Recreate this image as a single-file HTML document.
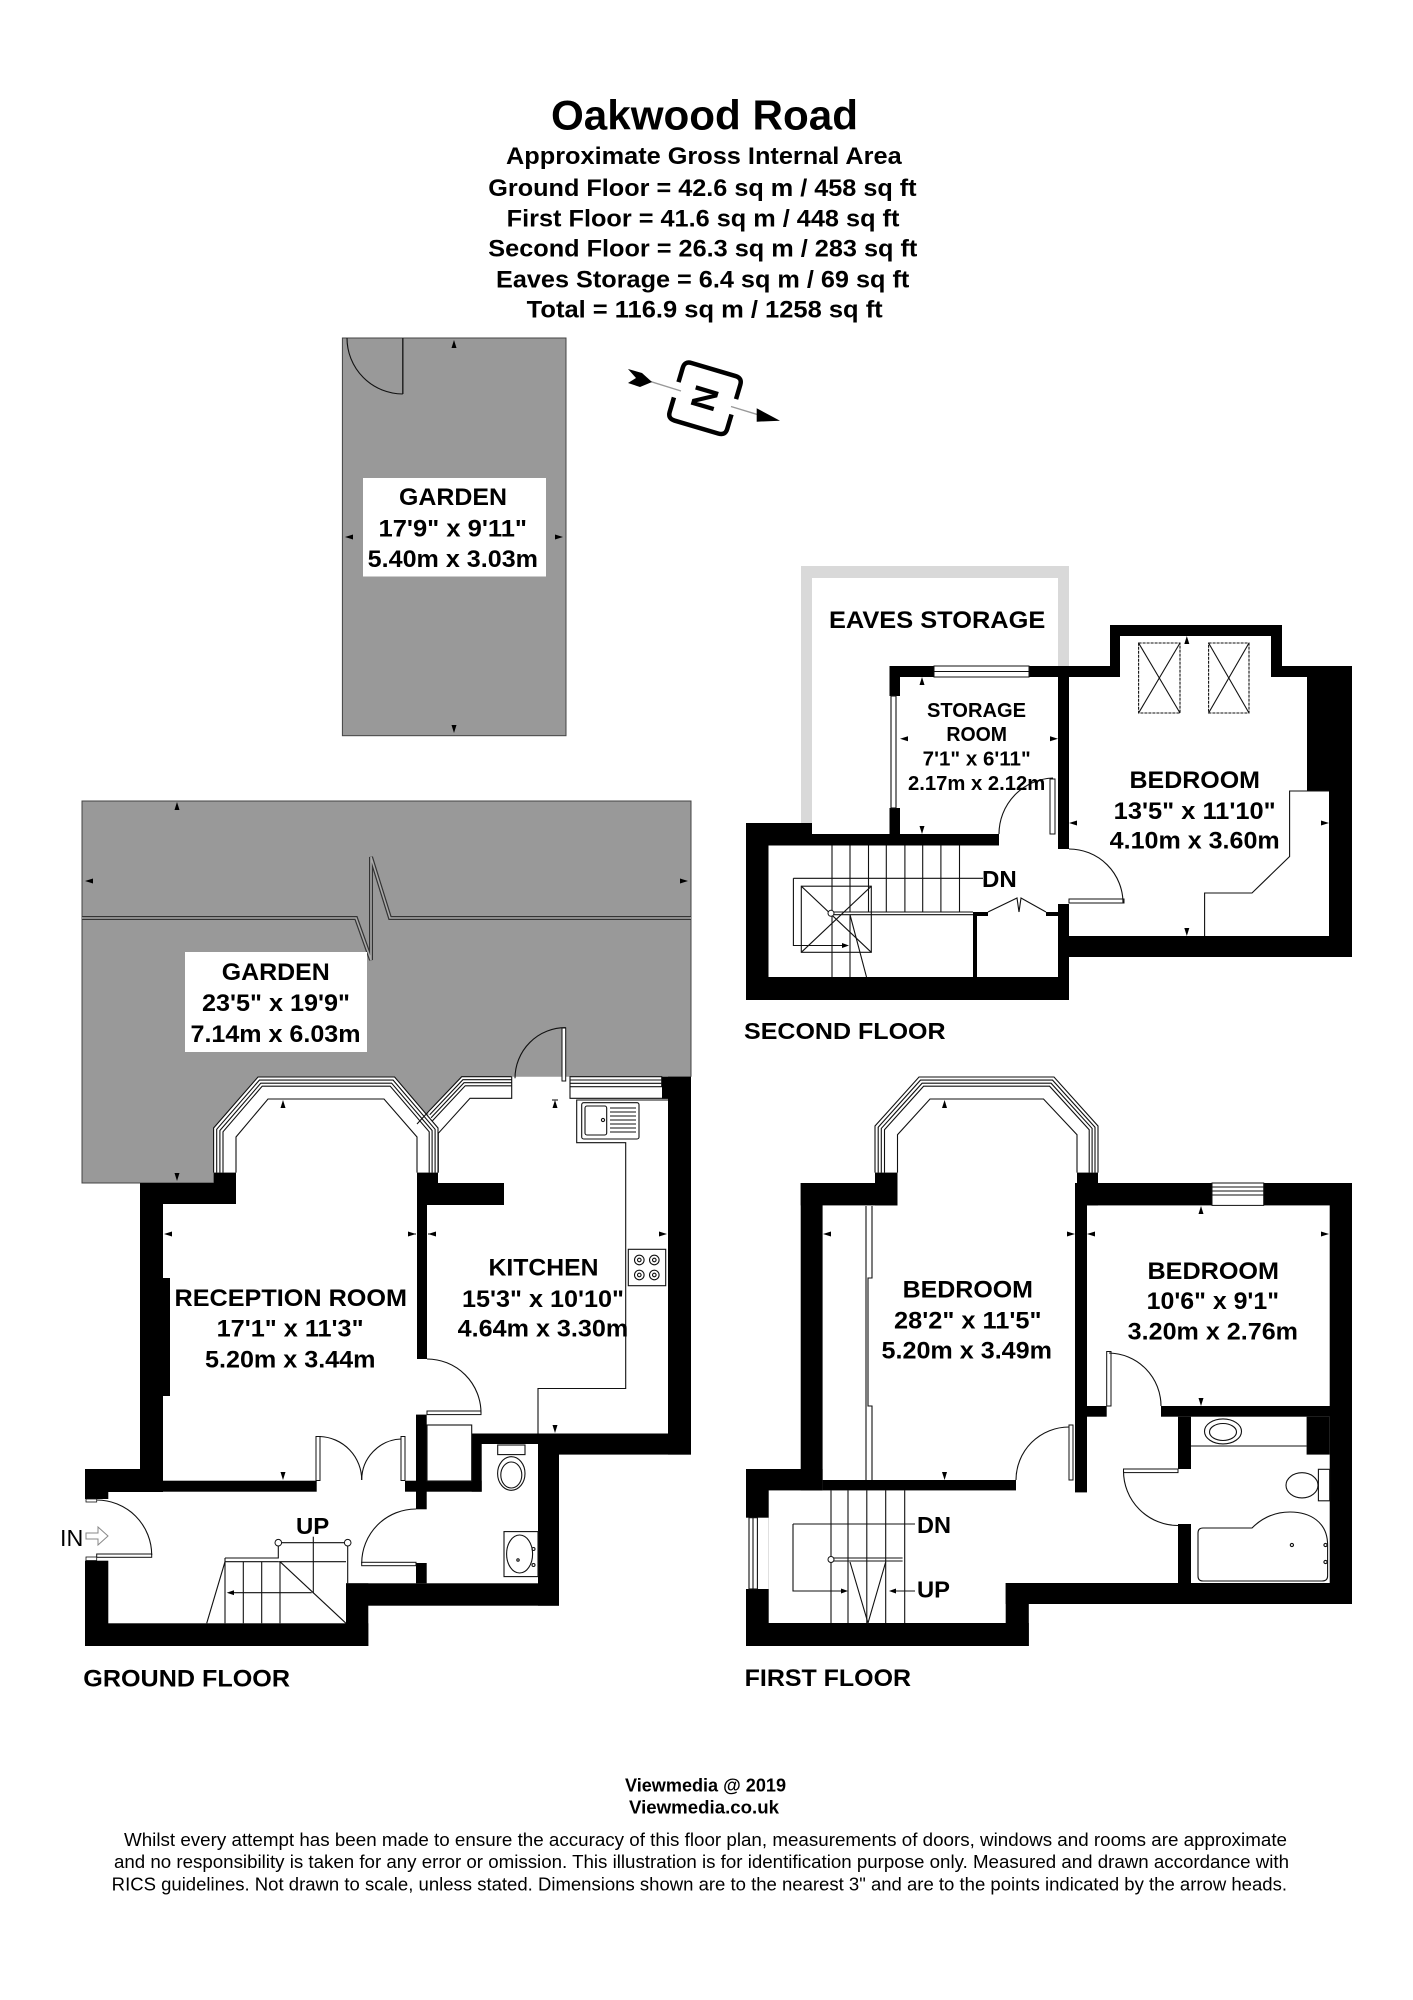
<!DOCTYPE html>
<html><head><meta charset="utf-8"><style>
html,body{margin:0;padding:0;background:#fff;}
svg{display:block;}
text{font-family:"Liberation Sans",Arial,sans-serif;font-weight:bold;fill:#000;}
.r{font-weight:normal;}
.ln{fill:none;stroke:#111;stroke-width:1.1;}
.tk{fill:#000;}
</style></head><body>
<svg width="1413" height="2000" viewBox="0 0 1413 2000" xmlns="http://www.w3.org/2000/svg">
<rect width="1413" height="2000" fill="#fff"/>

<!-- HEADER -->
<text x="551" y="129.3" font-size="42" textLength="307" lengthAdjust="spacingAndGlyphs">Oakwood Road</text>
<text x="506" y="164" font-size="24" textLength="395.7" lengthAdjust="spacingAndGlyphs">Approximate Gross Internal Area</text>
<text x="488.3" y="196" font-size="24" textLength="428.3" lengthAdjust="spacingAndGlyphs">Ground Floor = 42.6 sq m / 458 sq ft</text>
<text x="506.7" y="226.7" font-size="24" textLength="392.7" lengthAdjust="spacingAndGlyphs">First Floor = 41.6 sq m / 448 sq ft</text>
<text x="488.3" y="256.7" font-size="24" textLength="429" lengthAdjust="spacingAndGlyphs">Second Floor = 26.3 sq m / 283 sq ft</text>
<text x="496" y="287.3" font-size="24" textLength="413.3" lengthAdjust="spacingAndGlyphs">Eaves Storage = 6.4 sq m / 69 sq ft</text>
<text x="526.7" y="317.3" font-size="24" textLength="356" lengthAdjust="spacingAndGlyphs">Total = 116.9 sq m / 1258 sq ft</text>

<!-- TOP GARDEN -->
<rect x="342.4" y="338" width="223.6" height="397.7" fill="#999" stroke="#444" stroke-width="1"/>
<line x1="402.8" y1="338" x2="402.8" y2="394" stroke="#222" stroke-width="1.5"/>
<path d="M347 338 A56 56 0 0 0 402.8 394" class="ln"/>
<rect x="363" y="478" width="183" height="98.5" fill="#fff"/>
<text x="399" y="505" font-size="24" textLength="108" lengthAdjust="spacingAndGlyphs">GARDEN</text>
<text x="378.5" y="536.7" font-size="24" textLength="148.5" lengthAdjust="spacingAndGlyphs">17'9" x 9'11"</text>
<text x="367.7" y="567" font-size="24" textLength="170.3" lengthAdjust="spacingAndGlyphs">5.40m x 3.03m</text>
<polygon class="tk" points="454,340 451.5,348 456.5,348"/>
<polygon class="tk" points="454,733 451.5,725 456.5,725"/>
<polygon class="tk" points="345,537 353,534.5 353,539.5"/>
<polygon class="tk" points="563,537 555,534.5 555,539.5"/>

<!-- COMPASS -->
<line x1="636" y1="377" x2="681" y2="391" stroke="#999" stroke-width="1.4"/>
<line x1="731" y1="406.5" x2="760" y2="415.3" stroke="#999" stroke-width="1.4"/>
<polygon points="756.7,408.3 780,420.7 756.7,421.7" fill="#000"/>
<polygon points="628,369 642,373 652,382 640,387 628,383 636,378" fill="#000"/>
<g transform="translate(705,398.3) rotate(16.5)">
<path d="M-30,-8 L-30,-23 Q-30,-30 -23,-30 L23,-30 Q30,-30 30,-23 L30,-8" fill="none" stroke="#000" stroke-width="4.5"/>
<path d="M-30,8 L-30,23 Q-30,30 -23,30 L23,30 Q30,30 30,23 L30,8" fill="none" stroke="#000" stroke-width="4.5"/>
</g>
<g transform="translate(705,398.3) rotate(106.5)">
<text x="0" y="12" font-size="34" text-anchor="middle">N</text>
</g>

<!-- ================= GROUND FLOOR ================= -->
<rect x="82" y="801" width="609" height="382" fill="#999" stroke="#444" stroke-width="1"/>
<polyline points="82,918 356,918 371,960 371,857 390,918 691,918" fill="none" stroke="#333" stroke-width="4"/>
<polyline points="82,918 356,918 371,960 371,857 390,918 691,918" fill="none" stroke="#aaa" stroke-width="1.6"/>
<polygon class="tk" points="177,802 174.5,810 179.5,810"/>
<polygon class="tk" points="177,1181 174.5,1173 179.5,1173"/>
<polygon class="tk" points="85,881 93,878.5 93,883.5"/>
<polygon class="tk" points="688,881 680,878.5 680,883.5"/>
<rect x="185" y="952" width="182" height="100" fill="#fff"/>
<text x="221.8" y="980" font-size="24" textLength="108" lengthAdjust="spacingAndGlyphs">GARDEN</text>
<text x="202" y="1011" font-size="24" textLength="148" lengthAdjust="spacingAndGlyphs">23'5" x 19'9"</text>
<text x="190.5" y="1042" font-size="24" textLength="170" lengthAdjust="spacingAndGlyphs">7.14m x 6.03m</text>

<!-- white building regions over garden -->
<polygon points="213.6,1187 213.6,1128 258,1077 394.6,1077 438,1128 438,1187" fill="#fff"/>
<polygon points="428.3,1111.7 461.7,1076.7 692,1076.7 692,1187 428.3,1187" fill="#fff"/>
<!-- reception bay lines -->
<polyline class="ln" points="213.6,1172.6 213.6,1128 258,1077 394.6,1077 438,1128 438,1172.6"/>
<polyline class="ln" points="216.7,1172.6 216.7,1129.3 259.4,1080.1 393.1,1080.1 435.1,1129.3 435.1,1172.6"/>
<polyline class="ln" points="219.9,1172.6 219.9,1130.5 260.8,1083.2 391.6,1083.2 432.1,1130.5 432.1,1172.6"/>
<polyline class="ln" points="223,1172.6 223,1131.8 262.2,1086.2 390.2,1086.2 429.2,1131.8 429.2,1172.6"/>
<polyline class="ln" points="236,1172.6 236,1137 268,1099 384,1099 417,1137 417,1172.6"/>
<!-- kitchen left window -->
<polyline class="ln" points="511.7,1076.7 461.7,1076.7 428.3,1111.7 417,1124"/>
<polyline class="ln" points="511.7,1079.7 462.9,1079.7 429.7,1114.7"/>
<polyline class="ln" points="511.7,1082.7 464,1082.7 431.1,1117.7"/>
<polyline class="ln" points="511.7,1085.8 465.2,1085.8 432.5,1120.7"/>
<polyline class="ln" points="511.7,1076.7 511.7,1098.3 470,1098.3 438.3,1133.3 438.3,1172.6"/>
<!-- kitchen right window -->
<rect x="570" y="1076.7" width="91.7" height="10" class="ln"/>
<line class="ln" x1="570" y1="1080" x2="661.7" y2="1080"/>
<line class="ln" x1="570" y1="1083.3" x2="661.7" y2="1083.3"/>
<polyline class="ln" points="570,1086.7 570,1098.3 668,1098.3"/>
<!-- garden door -->
<rect x="562" y="1028" width="3.7" height="53" fill="#fff" stroke="#111" stroke-width="1"/>
<path class="ln" d="M515 1078.3 A50.7 50.7 0 0 1 565.7 1027.6"/>

<!-- ground walls -->
<g fill="#000">
<rect x="140" y="1183" width="23" height="309"/>
<rect x="163" y="1278" width="7" height="118"/>
<rect x="140" y="1183" width="96" height="21"/>
<rect x="213.6" y="1172.6" width="22.4" height="31.4"/>
<rect x="417" y="1172.6" width="21" height="10.4"/>
<rect x="417" y="1183" width="87" height="22"/>
<rect x="417" y="1183" width="10" height="176"/>
<rect x="416" y="1414.6" width="10.7" height="94.7"/>
<rect x="140" y="1480.7" width="176.7" height="11"/>
<rect x="85" y="1469" width="78" height="23"/>
<rect x="85" y="1469" width="23.3" height="30"/>
<rect x="405" y="1480.7" width="76.7" height="11"/>
<rect x="471.7" y="1433.5" width="10" height="58.2"/>
<rect x="471.7" y="1433.5" width="219.3" height="10.5"/>
<rect x="538" y="1433.5" width="153" height="21.1"/>
<rect x="662" y="1076.7" width="29" height="22"/>
<rect x="668" y="1076.7" width="23" height="377.9"/>
<rect x="538" y="1433.5" width="21" height="172.2"/>
<rect x="346" y="1583.3" width="213" height="22.4"/>
<rect x="416" y="1563" width="10.7" height="20.3"/>
<rect x="85" y="1623.3" width="283.3" height="22.7"/>
<rect x="346" y="1583.3" width="22.3" height="62.7"/>
<rect x="85" y="1560.7" width="23.3" height="85.3"/>
</g>
<!-- kitchen counter, sink, hob -->
<polyline class="ln" points="668,1100 576.7,1100 576.7,1142.7 625.7,1142.7 625.7,1388.5 538,1388.5 538,1433.5"/>
<rect x="581.7" y="1102.7" width="57.3" height="36.3" rx="2" class="ln"/>
<rect x="585" y="1106" width="21.7" height="29" rx="2" class="ln"/>
<circle cx="603" cy="1120" r="1.6" class="ln"/>
<g class="ln"><line x1="610" y1="1108" x2="636" y2="1108"/><line x1="610" y1="1112" x2="636" y2="1112"/><line x1="610" y1="1116" x2="636" y2="1116"/><line x1="610" y1="1120" x2="636" y2="1120"/><line x1="610" y1="1124" x2="636" y2="1124"/><line x1="610" y1="1128" x2="636" y2="1128"/><line x1="610" y1="1132" x2="636" y2="1132"/></g>
<rect x="628.3" y="1249.3" width="37.4" height="36.4" class="ln"/>
<g class="ln"><circle cx="639.3" cy="1260" r="4.8"/><circle cx="654.3" cy="1260" r="4.8"/><circle cx="639.3" cy="1275" r="4.8"/><circle cx="654.3" cy="1275" r="4.8"/>
<circle cx="639.3" cy="1260" r="1.8"/><circle cx="654.3" cy="1260" r="1.8"/><circle cx="639.3" cy="1275" r="1.8"/><circle cx="654.3" cy="1275" r="1.8"/></g>
<!-- doors -->
<rect x="427" y="1411" width="54" height="3.6" fill="#fff" stroke="#111" stroke-width="1"/>
<path class="ln" d="M427 1359 A54 54 0 0 1 481 1413"/>
<rect x="427" y="1425" width="44.7" height="56" class="ln"/>
<rect x="316" y="1436.5" width="4" height="44" fill="#fff" stroke="#111" stroke-width="1"/>
<rect x="401" y="1436.5" width="4" height="44" fill="#fff" stroke="#111" stroke-width="1"/>
<path class="ln" d="M320 1436.5 A43.5 43.5 0 0 1 361.7 1480"/>
<path class="ln" d="M401 1439 A41 41 0 0 0 361.7 1480"/>
<rect x="96.7" y="1554" width="55" height="3.3" fill="#fff" stroke="#111" stroke-width="1"/>
<path class="ln" d="M96.7 1500 A55 55 0 0 1 151.7 1555"/>
<rect x="86" y="1499" width="10.7" height="3" fill="#fff" stroke="#111" stroke-width="0.8"/>
<rect x="86" y="1557" width="10.7" height="3.5" fill="#fff" stroke="#111" stroke-width="0.8"/>
<rect x="361.7" y="1562.3" width="54.3" height="3.4" fill="#fff" stroke="#111" stroke-width="1"/>
<path class="ln" d="M416 1509 A54.3 54.3 0 0 0 361.7 1563.3"/>
<!-- WC -->
<rect x="497.7" y="1445" width="27.3" height="9.6" class="ln"/>
<ellipse cx="511.3" cy="1473.5" rx="13.7" ry="16.8" class="ln"/>
<ellipse cx="511.3" cy="1475" rx="10.5" ry="13" class="ln"/>
<rect x="504" y="1531.6" width="34" height="45" class="ln"/>
<ellipse cx="519.6" cy="1554" rx="13" ry="19" class="ln"/>
<circle cx="533.5" cy="1549" r="1.5" class="ln"/><circle cx="533.5" cy="1565" r="1.5" class="ln"/>
<circle cx="518" cy="1560" r="1.2" class="ln"/>
<!-- ground stairs -->
<g class="ln">
<line x1="281.6" y1="1542.7" x2="344.4" y2="1542.7"/>
<line x1="278.3" y1="1561.7" x2="346" y2="1561.7"/>
<line x1="347.7" y1="1546" x2="347.7" y2="1583.3"/>
<line x1="313.3" y1="1536.7" x2="313.3" y2="1593.3"/>
<polyline points="278.3,1546 278.3,1558 225,1558"/>
<line x1="225" y1="1561.7" x2="278.3" y2="1561.7"/>
<line x1="225" y1="1558" x2="225" y2="1623.3"/>
<line x1="243.3" y1="1561.7" x2="243.3" y2="1623.3"/>
<line x1="261.7" y1="1561.7" x2="261.7" y2="1623.3"/>
<line x1="280" y1="1561.7" x2="280" y2="1623.3"/>
<line x1="225" y1="1561.7" x2="206.7" y2="1623.3"/>
<line x1="280" y1="1561.7" x2="346" y2="1623.3"/>
<line x1="311.7" y1="1592.7" x2="232" y2="1592.7"/>
</g>
<circle cx="278.3" cy="1542.7" r="3.3" fill="#fff" stroke="#111" stroke-width="1"/>
<circle cx="347.7" cy="1542.7" r="3.3" fill="#fff" stroke="#111" stroke-width="1"/>
<polygon class="tk" points="226.7,1592.7 234,1590.3 234,1595.1"/>
<!-- ground ticks -->
<polygon class="tk" points="283,1100 280.5,1108 285.5,1108"/>
<polygon class="tk" points="283,1480 280.5,1472 285.5,1472"/>
<polygon class="tk" points="164,1234 172,1231.5 172,1236.5"/>
<polygon class="tk" points="416,1234 408,1231.5 408,1236.5"/>
<polygon class="tk" points="555,1100 552.5,1108 557.5,1108"/>
<line x1="552" y1="1100" x2="558" y2="1100" stroke="#000" stroke-width="1"/>
<polygon class="tk" points="555,1433 552.5,1425 557.5,1425"/>
<polygon class="tk" points="428,1234 436,1231.5 436,1236.5"/>
<polygon class="tk" points="667,1234 659,1231.5 659,1236.5"/>
<line x1="408" y1="1234" x2="416" y2="1234" stroke="#000"/><line x1="428" y1="1234" x2="436" y2="1234" stroke="#000"/>
<!-- ground labels -->
<text x="174.5" y="1306" font-size="24" textLength="232.5" lengthAdjust="spacingAndGlyphs">RECEPTION ROOM</text>
<text x="216.6" y="1336.7" font-size="24" textLength="147" lengthAdjust="spacingAndGlyphs">17'1" x 11'3"</text>
<text x="205" y="1367.4" font-size="24" textLength="170.5" lengthAdjust="spacingAndGlyphs">5.20m x 3.44m</text>
<text x="488.5" y="1275.7" font-size="24" textLength="110" lengthAdjust="spacingAndGlyphs">KITCHEN</text>
<text x="462" y="1307" font-size="24" textLength="162" lengthAdjust="spacingAndGlyphs">15'3" x 10'10"</text>
<text x="457.7" y="1336.7" font-size="24" textLength="170.5" lengthAdjust="spacingAndGlyphs">4.64m x 3.30m</text>
<text x="296" y="1534" font-size="23" textLength="33.3" lengthAdjust="spacingAndGlyphs">UP</text>
<text x="60" y="1546" font-size="23" class="r" textLength="23.3" lengthAdjust="spacingAndGlyphs">IN</text>
<polygon points="86,1533 98,1533 98,1527 108,1536 98,1545 98,1539 86,1539" fill="#fff" stroke="#888" stroke-width="1"/>
<text x="83.3" y="1686.7" font-size="24" textLength="206.7" lengthAdjust="spacingAndGlyphs">GROUND FLOOR</text>

<!-- ================= FIRST FLOOR ================= -->
<polyline class="ln" points="875,1172.6 875,1126 919,1077 1054,1077 1098,1126 1098,1172.6"/>
<polyline class="ln" points="878.2,1172.6 878.2,1127.2 920.5,1080.1 1052.5,1080.1 1095,1127.2 1095,1172.6"/>
<polyline class="ln" points="881.3,1172.6 881.3,1128.4 922.1,1083.2 1051.1,1083.2 1092.1,1128.4 1092.1,1172.6"/>
<polyline class="ln" points="884.5,1172.6 884.5,1129.7 923.6,1086.2 1049.6,1086.2 1089.2,1129.7 1089.2,1172.6"/>
<polyline class="ln" points="897.5,1172.6 897.5,1134.7 930,1099 1043.5,1099 1077,1134.7 1077,1172.6"/>
<g fill="#000">
<rect x="800.7" y="1183" width="21.9" height="307.4"/>
<rect x="800.7" y="1183" width="96.8" height="22.4"/>
<rect x="875" y="1172.6" width="22.5" height="32.8"/>
<rect x="1077" y="1172.6" width="21" height="32.8"/>
<rect x="1077" y="1183" width="275" height="22.4"/>
<rect x="1075" y="1183" width="12" height="309.4"/>
<rect x="822.6" y="1480" width="193.4" height="10.4"/>
<rect x="746" y="1469" width="76.6" height="21.4"/>
<rect x="746" y="1469" width="22.7" height="177"/>
<rect x="1329.7" y="1183" width="22.3" height="421"/>
<rect x="1087" y="1406" width="19.7" height="10.7"/>
<rect x="1161" y="1406" width="191" height="10.7"/>
<rect x="1178" y="1416.7" width="13" height="52.3"/>
<rect x="1178" y="1524" width="13" height="80"/>
<rect x="1306.6" y="1416.7" width="23.1" height="37.9"/>
<rect x="1005.7" y="1583" width="346.3" height="21"/>
<rect x="1005.7" y="1583" width="23.1" height="63"/>
<rect x="746" y="1623" width="282.8" height="23"/>
</g>
<!-- windows -->
<rect x="1212" y="1183" width="51.7" height="22.4" fill="#fff" stroke="#111" stroke-width="1"/>
<line class="ln" x1="1212" y1="1187" x2="1263.7" y2="1187"/><line class="ln" x1="1212" y1="1191" x2="1263.7" y2="1191"/><line class="ln" x1="1212" y1="1195" x2="1263.7" y2="1195"/>
<rect x="746" y="1517.7" width="22.7" height="71.3" fill="#fff"/>
<rect x="749" y="1517.7" width="8.4" height="71.3" class="ln"/>
<line class="ln" x1="753" y1="1517.7" x2="753" y2="1589"/>
<!-- wardrobe -->
<polyline class="ln" points="872,1206 872,1278 868,1278 868,1406 872,1406 872,1480"/>
<line class="ln" x1="866" y1="1206" x2="866" y2="1480"/>
<!-- doors -->
<rect x="1069" y="1425" width="4" height="55" fill="#fff" stroke="#111" stroke-width="1"/>
<path class="ln" d="M1016 1480 A53 53 0 0 1 1069 1427"/>
<rect x="1106.7" y="1351.5" width="4.3" height="54.5" fill="#fff" stroke="#111" stroke-width="1"/>
<path class="ln" d="M1109 1353 A53 53 0 0 1 1161 1406"/>
<rect x="1123.5" y="1469" width="54.5" height="3.6" fill="#fff" stroke="#111" stroke-width="1"/>
<path class="ln" d="M1123.5 1471 A54.5 54.5 0 0 0 1178 1525.5"/>
<!-- bathroom -->
<line class="ln" x1="1191" y1="1446" x2="1306.6" y2="1446"/>
<ellipse cx="1223" cy="1431.4" rx="18.5" ry="12.5" class="ln"/>
<ellipse cx="1223" cy="1432" rx="13.5" ry="8.5" class="ln"/>
<rect x="1318.4" y="1469.3" width="11.3" height="31.5" class="ln"/>
<ellipse cx="1302" cy="1485.3" rx="16" ry="12.6" class="ln"/>
<path class="ln" d="M1203,1528 L1252,1528 C1262,1518 1275,1512 1290,1512 C1310,1512 1327.6,1522 1327.6,1545 L1327.6,1576 Q1327.6,1581 1322,1581 L1203,1581 Q1198,1581 1198,1576 L1198,1533 Q1198,1528 1203,1528 Z"/>
<circle cx="1291.9" cy="1545" r="1.6" class="ln"/><circle cx="1325.5" cy="1545" r="1.6" class="ln"/><circle cx="1325.5" cy="1562" r="1.6" class="ln"/>
<!-- first stairs -->
<g class="ln">
<line x1="831" y1="1490.4" x2="831" y2="1623"/>
<line x1="848" y1="1490.4" x2="848" y2="1623"/>
<line x1="866.8" y1="1490.4" x2="866.8" y2="1623"/>
<line x1="885.7" y1="1490.4" x2="885.7" y2="1623"/>
<line x1="904.7" y1="1490.4" x2="904.7" y2="1623"/>
<line x1="793" y1="1524" x2="915" y2="1524"/>
<polyline points="793,1524 793,1591 842,1591"/>
<line x1="915" y1="1591" x2="895" y2="1591"/>
<line x1="834" y1="1558" x2="902.6" y2="1558"/>
<line x1="834" y1="1561" x2="902.6" y2="1561"/>
<polyline points="850,1562 868,1623 885.7,1562"/>
</g>
<circle cx="831" cy="1559.5" r="3" fill="#fff" stroke="#111" stroke-width="1"/>
<polygon class="tk" points="848,1591 841,1588.5 841,1593.5"/>
<polygon class="tk" points="889,1591 896,1588.5 896,1593.5"/>
<!-- first ticks -->
<polygon class="tk" points="944.6,1100 942,1108 947,1108"/>
<polygon class="tk" points="944.6,1480 942,1472 947,1472"/>
<polygon class="tk" points="823,1234 831,1231.5 831,1236.5"/>
<polygon class="tk" points="1075,1234 1067,1231.5 1067,1236.5"/>
<polygon class="tk" points="1201,1206 1198.5,1214 1203.5,1214"/>
<polygon class="tk" points="1201,1406 1198.5,1398 1203.5,1398"/>
<polygon class="tk" points="1087,1234 1095,1231.5 1095,1236.5"/>
<polygon class="tk" points="1329,1234 1321,1231.5 1321,1236.5"/>
<!-- first labels -->
<text x="902.6" y="1297.6" font-size="24" textLength="130.4" lengthAdjust="spacingAndGlyphs">BEDROOM</text>
<text x="894" y="1328.3" font-size="24" textLength="147.5" lengthAdjust="spacingAndGlyphs">28'2" x 11'5"</text>
<text x="881.5" y="1358.6" font-size="24" textLength="170.5" lengthAdjust="spacingAndGlyphs">5.20m x 3.49m</text>
<text x="1147.5" y="1279" font-size="24" textLength="131.5" lengthAdjust="spacingAndGlyphs">BEDROOM</text>
<text x="1146.7" y="1309" font-size="24" textLength="132.3" lengthAdjust="spacingAndGlyphs">10'6" x 9'1"</text>
<text x="1127.7" y="1339.7" font-size="24" textLength="170.3" lengthAdjust="spacingAndGlyphs">3.20m x 2.76m</text>
<text x="917" y="1533" font-size="23" textLength="34" lengthAdjust="spacingAndGlyphs">DN</text>
<text x="917" y="1597.7" font-size="23" textLength="33" lengthAdjust="spacingAndGlyphs">UP</text>
<text x="744.7" y="1686" font-size="24" textLength="166.3" lengthAdjust="spacingAndGlyphs">FIRST FLOOR</text>

<!-- ================= SECOND FLOOR ================= -->
<polygon points="801,566 1069,566 1069,666 1058,666 1058,578 812,578 812,823 801,823" fill="#d9d9d9"/>
<text x="829" y="628" font-size="24" textLength="216.3" lengthAdjust="spacingAndGlyphs">EAVES STORAGE</text>
<g fill="#000">
<rect x="746" y="823" width="66" height="22.5"/>
<rect x="812" y="834" width="187" height="11.5"/>
<rect x="889.5" y="666" width="10.5" height="179.5"/>
<rect x="889.5" y="666" width="230.5" height="11"/>
<rect x="1110" y="625" width="172" height="11"/>
<rect x="1110" y="625" width="10" height="52"/>
<rect x="1271" y="625" width="11" height="52"/>
<rect x="1271" y="666" width="81" height="11"/>
<rect x="1307" y="666" width="45" height="125"/>
<rect x="1329" y="666" width="23" height="291"/>
<rect x="1058" y="666" width="11" height="183"/>
<rect x="1058" y="936" width="294" height="21"/>
<rect x="1058" y="904" width="11" height="96"/>
<rect x="746" y="977" width="323" height="23"/>
<rect x="746" y="823" width="22.5" height="177"/>
<rect x="973" y="912" width="4" height="65"/>
<rect x="973" y="912" width="15" height="4"/>
<rect x="1046" y="912" width="12" height="4"/>
</g>
<!-- windows -->
<rect x="934" y="666" width="95" height="11" fill="#fff" stroke="#111" stroke-width="1"/>
<line class="ln" x1="934" y1="671.5" x2="1029" y2="671.5"/>
<rect x="889.5" y="696" width="10.5" height="112" fill="#fff"/>
<rect x="891" y="696" width="5" height="112" class="ln"/>
<!-- skylights -->
<rect x="1138.6" y="643" width="41.4" height="70" class="ln" stroke-dasharray="3 1"/>
<line class="ln" x1="1138.6" y1="643" x2="1180" y2="713"/><line class="ln" x1="1180" y1="643" x2="1138.6" y2="713"/>
<rect x="1208.6" y="643" width="40.4" height="70" class="ln" stroke-dasharray="3 1"/>
<line class="ln" x1="1208.6" y1="643" x2="1249" y2="713"/><line class="ln" x1="1249" y1="643" x2="1208.6" y2="713"/>
<polyline class="ln" points="1329,791 1289.6,791 1289.6,856.5 1252,893 1204.6,893 1204.6,936"/>
<!-- doors -->
<rect x="1069" y="899" width="55" height="4" fill="#fff" stroke="#111" stroke-width="1"/>
<path class="ln" d="M1069 849 A54 54 0 0 1 1123 903"/>
<rect x="1050" y="779" width="5" height="55" fill="#fff" stroke="#111" stroke-width="1"/>
<path class="ln" d="M999 834 A56 56 0 0 1 1053 778"/>
<polyline class="ln" points="988,912 1017,898 1019,912"/>
<polyline class="ln" points="1046,912 1021,898 1019,912"/>
<!-- stairs -->
<g class="ln">
<line x1="832" y1="845.5" x2="832" y2="912"/>
<line x1="850" y1="845.5" x2="850" y2="912"/>
<line x1="868.5" y1="845.5" x2="868.5" y2="912"/>
<line x1="886.3" y1="845.5" x2="886.3" y2="912"/>
<line x1="904.9" y1="845.5" x2="904.9" y2="912"/>
<line x1="922.7" y1="845.5" x2="922.7" y2="912"/>
<line x1="940.9" y1="845.5" x2="940.9" y2="912"/>
<line x1="959.5" y1="845.5" x2="959.5" y2="912"/>
<line x1="793.4" y1="878.3" x2="983" y2="878.3"/>
<line x1="834" y1="912" x2="973" y2="912"/>
<line x1="834" y1="914.7" x2="973" y2="914.7"/>
<rect x="801.3" y="886.2" width="70" height="66.1"/>
<line x1="801.3" y1="886.2" x2="871.3" y2="952.3"/>
<line x1="871.3" y1="886.2" x2="801.3" y2="952.3"/>
<polyline points="793.4,878.3 793.4,945.5 843,945.5"/>
<line x1="832" y1="914.7" x2="832" y2="977"/>
<line x1="850" y1="914.7" x2="850" y2="977"/>
<line x1="850" y1="914.7" x2="866.5" y2="977"/>
</g>
<circle cx="831" cy="913.3" r="3" fill="#fff" stroke="#111" stroke-width="1"/>
<polygon class="tk" points="849,945.5 842,943 842,948"/>
<!-- ticks -->
<polygon class="tk" points="922,677 919.5,685 924.5,685"/>
<polygon class="tk" points="922,834 919.5,826 924.5,826"/>
<polygon class="tk" points="900,738.7 908,736.2 908,741.2"/>
<polygon class="tk" points="1058,738.7 1050,736.2 1050,741.2"/>
<polygon class="tk" points="1186.8,636 1184.3,644 1189.3,644"/>
<polygon class="tk" points="1186.8,936 1184.3,928 1189.3,928"/>
<polygon class="tk" points="1069,823 1077,820.5 1077,825.5"/>
<polygon class="tk" points="1329,823 1321,820.5 1321,825.5"/>
<!-- labels -->
<text x="927" y="717" font-size="20" textLength="99" lengthAdjust="spacingAndGlyphs">STORAGE</text>
<text x="946.4" y="741" font-size="20" textLength="60.6" lengthAdjust="spacingAndGlyphs">ROOM</text>
<text x="922.7" y="765.6" font-size="20" textLength="108" lengthAdjust="spacingAndGlyphs">7'1" x 6'11"</text>
<text x="908" y="790" font-size="20" textLength="137.3" lengthAdjust="spacingAndGlyphs">2.17m x 2.12m</text>
<text x="1129.5" y="788" font-size="24" textLength="130.5" lengthAdjust="spacingAndGlyphs">BEDROOM</text>
<text x="1113.7" y="819" font-size="24" textLength="162" lengthAdjust="spacingAndGlyphs">13'5" x 11'10"</text>
<text x="1109.7" y="848.6" font-size="24" textLength="170" lengthAdjust="spacingAndGlyphs">4.10m x 3.60m</text>
<text x="982" y="887" font-size="23" textLength="34.8" lengthAdjust="spacingAndGlyphs">DN</text>
<text x="744" y="1039" font-size="23" textLength="201.6" lengthAdjust="spacingAndGlyphs">SECOND FLOOR</text>

<!-- FOOTER -->
<text x="625" y="1791.7" font-size="18" textLength="161" lengthAdjust="spacingAndGlyphs">Viewmedia @ 2019</text>
<text x="629" y="1813.3" font-size="18" textLength="150" lengthAdjust="spacingAndGlyphs">Viewmedia.co.uk</text>
<text class="r" x="124" y="1846" font-size="18" textLength="1163" lengthAdjust="spacingAndGlyphs">Whilst every attempt has been made to ensure the accuracy of this floor plan, measurements of doors, windows and rooms are approximate</text>
<text class="r" x="114" y="1868" font-size="18" textLength="1175" lengthAdjust="spacingAndGlyphs">and no responsibility is taken for any error or omission. This illustration is for identification purpose only. Measured and drawn accordance with</text>
<text class="r" x="111.7" y="1890.7" font-size="18" textLength="1175.3" lengthAdjust="spacingAndGlyphs">RICS guidelines. Not drawn to scale, unless stated. Dimensions shown are to the nearest 3" and are to the points indicated by the arrow heads.</text>
</svg>
</body></html>
